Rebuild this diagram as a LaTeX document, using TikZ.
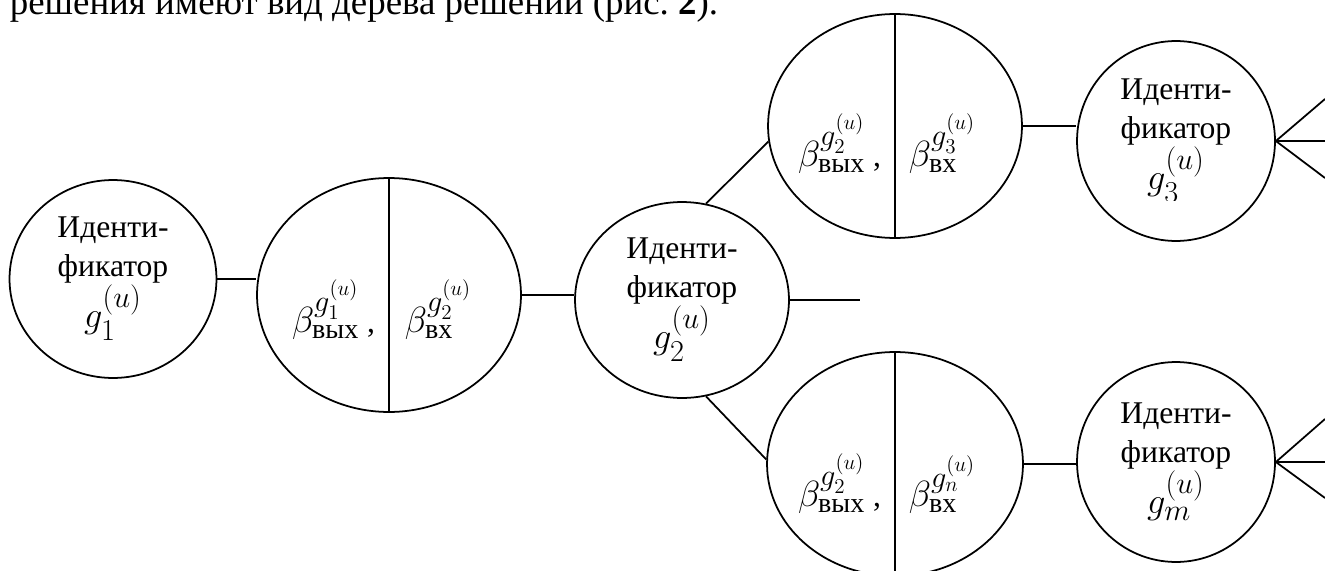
\documentclass[tikz,border=0pt]{standalone}
\usepackage{amsmath}
\usepackage{fontspec}
\setmainfont{Liberation Serif}
\DeclareMathSizes{18}{22}{16}{12}
\usetikzlibrary{shapes.geometric}

\begin{document}
\begin{tikzpicture}[x=0.02cm,y=-0.02cm,line width=1pt,
		every node/.style={font=\fontsize{18}{22}\selectfont},
		ident/.style={draw,ellipse,inner sep=0pt,align=center},
		trans/.style={draw,ellipse,inner sep=0pt},
		beta/.style={inner sep=0pt}]
		\useasboundingbox (0,0) rectangle (1325,571);
		\clip (0,0) rectangle (1325,571);
		\node[anchor=base west,inner sep=0pt,font=\fontsize{21}{25}\selectfont] (txt) at (9,15) {решения имеют вид дерева решений (рис.~\textbf{2}).};
		% identifiers
		\node[ident,minimum width=4.14cm,minimum height=3.96cm] (id1) at (113,279) {Иденти-\\фикатор\\$g_1^{(u)}$};
		\node[ident,minimum width=4.28cm,minimum height=3.92cm] (id2) at (682,300) {Иденти-\\фикатор\\$g_2^{(u)}$};
		\node[ident,minimum width=3.96cm,minimum height=4cm] (id3) at (1176,141) {};
		\begin{scope}
			\clip (1070,30) rectangle (1280,200);
			\node[align=center,inner sep=0pt] (id3t) at (id3) {Иденти-\\фикатор\\$g_3^{(u)}$};
		\end{scope}
		\node[ident,minimum width=3.96cm,minimum height=4cm] (idm) at (1176,462) {Иденти-\\фикатор\\$g_m^{(u)}$};
		% transitions
		\node[trans,minimum width=5.28cm,minimum height=4.68cm] (tr1) at (389,295) {};
		\node[trans,minimum width=5.08cm,minimum height=4.48cm] (tr2) at (895,126) {};
		\node[trans,minimum width=5.12cm,minimum height=4.48cm] (tr3) at (895,464) {};
		\draw (tr1.north) -- (tr1.south);
		\draw (tr2.north) -- (tr2.south);
		\draw (tr3.north) -- (tr3.south);
		\node[beta,anchor=base east] (tr1l) at (376,332) {$\beta^{g_1^{(u)}}_{\text{вых}}$ ,};
		\node[beta,anchor=base west] (tr1r) at (404,332) {$\beta^{g_2^{(u)}}_{\text{вх}}$};
		\node[beta,anchor=base east] (tr2l) at (882,166) {$\beta^{g_2^{(u)}}_{\text{вых}}$ ,};
		\node[beta,anchor=base west] (tr2r) at (908,166) {$\beta^{g_3^{(u)}}_{\text{вх}}$};
		\node[beta,anchor=base east] (tr3l) at (882,506) {$\beta^{g_2^{(u)}}_{\text{вых}}$ ,};
		\node[beta,anchor=base west] (tr3r) at (908,506) {$\beta^{g_n^{(u)}}_{\text{вх}}$};
		% connectors
		\coordinate (stub) at (860,300);
		\draw (id1.east) -- (id1.east -| tr1.west);
		\draw (tr1.east) -- (tr1.east -| id2.west);
		\draw (id2.east) -- (stub);
		\draw (id2.76) -- (tr2.187);
		\draw (id2.-76) -- (tr3.178);
		\draw (tr2.east) -- (tr2.east -| id3.west);
		\draw (tr3.east) -- (tr3.east -| idm.west);
		% fans
		\coordinate (id3a) at (1325,99);
		\coordinate (id3b) at (1325,141);
		\coordinate (id3c) at (1325,178);
		\coordinate (idma) at (1325,419);
		\coordinate (idmb) at (1325,462);
		\coordinate (idmc) at (1325,498);
		\foreach \f in {a,b,c} {
			\draw (id3.east) -- (id3\f);
			\draw (idm.east) -- (idm\f);
		}
\end{tikzpicture}
\end{document}
